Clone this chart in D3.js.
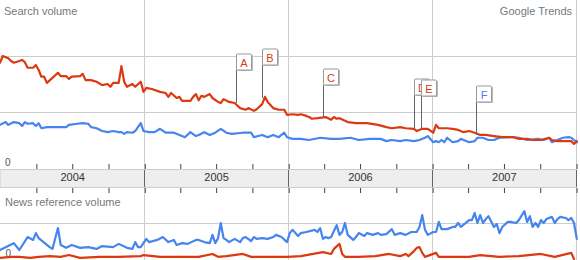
<!DOCTYPE html>
<html>
<head>
<meta charset="utf-8">
<script src="https://cdn.jsdelivr.net/npm/d3@7"></script>
<style>
  body { margin: 0; background: #fff; }
  svg { display: block; font-family: "Liberation Sans", Arial, sans-serif; }
</style>
</head>
<body>
<div id="chart"></div>
<script>
// [week since 2004-01-01, value]
const searchRed = [[0,1.88],[1,2.00],[3,1.96],[4,1.91],[5,1.88],[7,1.91],[8,1.93],[9,1.89],[10,1.79],[12,1.79],[13,1.84],[14,1.75],[15,1.63],[16,1.63],[17,1.52],[19,1.61],[21,1.70],[22,1.64],[24,1.64],[25,1.59],[26,1.63],[29,1.64],[30,1.68],[31,1.57],[33,1.57],[35,1.54],[37,1.48],[39,1.50],[40,1.45],[41,1.52],[43,1.52],[44,1.82],[45,1.54],[46,1.45],[48,1.50],[49,1.45],[51,1.54],[52,1.36],[53,1.43],[55,1.41],[58,1.36],[60,1.34],[61,1.27],[62,1.34],[64,1.25],[65,1.27],[66,1.20],[69,1.20],[70,1.27],[71,1.32],[72,1.21],[73,1.29],[74,1.27],[76,1.32],[77,1.25],[79,1.18],[80,1.16],[81,1.23],[83,1.18],[85,1.16],[87,1.07],[89,1.04],[90,1.07],[92,1.02],[93,1.05],[95,1.14],[96,1.27],[97,1.18],[99,1.07],[101,1.04],[103,1.04],[104,0.95],[106,0.96],[108,0.95],[109,0.96],[111,0.93],[112,0.91],[113,0.88],[115,0.89],[118,0.91],[120,0.86],[121,0.91],[122,0.88],[123,0.89],[126,0.82],[129,0.80],[133,0.80],[137,0.77],[140,0.73],[142,0.71],[145,0.73],[147,0.71],[150,0.70],[151,0.66],[153,0.70],[155,0.70],[157,0.63],[158,0.77],[159,0.71],[162,0.71],[164,0.70],[166,0.68],[168,0.64],[170,0.66],[172,0.63],[174,0.59],[176,0.59],[179,0.57],[182,0.55],[184,0.55],[186,0.55],[188,0.52],[191,0.52],[193,0.50],[196,0.50],[199,0.54],[200,0.50],[202,0.48],[204,0.48],[207,0.48],[208,0.43],[209,0.48]];
const searchBlue = [[0,0.77],[2,0.82],[3,0.77],[5,0.82],[7,0.80],[8,0.75],[9,0.82],[10,0.79],[12,0.80],[13,0.75],[14,0.80],[15,0.71],[17,0.73],[19,0.73],[22,0.73],[24,0.73],[25,0.77],[28,0.79],[30,0.80],[32,0.79],[33,0.73],[35,0.71],[37,0.66],[39,0.64],[41,0.66],[43,0.64],[44,0.64],[45,0.61],[46,0.64],[48,0.63],[49,0.66],[51,0.80],[52,0.66],[54,0.64],[56,0.64],[58,0.70],[60,0.63],[63,0.63],[65,0.59],[67,0.55],[69,0.64],[71,0.57],[72,0.59],[74,0.64],[76,0.59],[78,0.63],[80,0.70],[82,0.63],[84,0.61],[88,0.63],[91,0.63],[92,0.55],[95,0.59],[97,0.55],[99,0.59],[101,0.55],[103,0.63],[104,0.55],[106,0.52],[109,0.52],[112,0.50],[116,0.54],[120,0.52],[123,0.52],[127,0.54],[130,0.50],[134,0.52],[138,0.52],[140,0.48],[142,0.50],[145,0.48],[147,0.50],[150,0.48],[152,0.50],[154,0.54],[155,0.57],[157,0.46],[158,0.48],[159,0.46],[160,0.50],[161,0.46],[162,0.54],[164,0.46],[166,0.48],[167,0.52],[168,0.50],[170,0.46],[172,0.48],[173,0.54],[175,0.54],[177,0.50],[179,0.50],[181,0.54],[184,0.55],[186,0.55],[188,0.54],[191,0.50],[195,0.52],[197,0.50],[199,0.54],[200,0.46],[202,0.50],[204,0.54],[206,0.55],[207,0.54],[208,0.50],[209,0.46]];
const newsBlue = [[0,0.25],[5,0.44],[7,0.25],[10,0.61],[12,0.53],[13,0.72],[14,0.58],[18,0.33],[19,0.28],[21,0.86],[22,0.39],[24,0.31],[26,0.39],[29,0.31],[32,0.33],[35,0.28],[37,0.36],[41,0.33],[43,0.42],[46,0.31],[48,0.28],[49,0.47],[50,0.33],[51,0.33],[53,0.56],[54,0.47],[57,0.53],[59,0.61],[61,0.47],[63,0.53],[64,0.39],[66,0.44],[68,0.42],[71,0.53],[72,0.53],[74,0.47],[76,0.44],[77,0.67],[78,0.44],[79,0.58],[80,1.00],[81,0.58],[82,0.53],[83,0.47],[85,0.56],[87,0.47],[88,0.58],[89,0.61],[91,0.50],[92,0.61],[93,0.56],[95,0.58],[97,0.56],[99,0.61],[100,0.67],[102,0.61],[104,0.47],[105,0.72],[106,0.81],[108,0.64],[109,0.72],[111,0.75],[114,0.81],[115,0.75],[116,0.86],[117,0.56],[118,0.61],[119,0.58],[120,0.61],[122,0.94],[123,0.67],[124,0.75],[125,1.00],[126,0.67],[128,0.53],[129,0.61],[130,0.72],[132,0.64],[133,0.72],[135,0.67],[137,0.72],[138,0.67],[140,0.69],[142,0.83],[143,0.67],[145,0.72],[147,0.67],[149,0.75],[151,0.75],[152,0.89],[153,1.22],[154,0.81],[155,0.67],[157,0.75],[158,0.75],[159,1.03],[160,0.83],[162,0.83],[164,0.89],[165,0.89],[166,1.00],[167,0.89],[170,1.08],[171,1.08],[172,1.28],[173,1.00],[174,1.22],[175,1.00],[176,1.11],[177,1.19],[179,0.89],[180,0.97],[181,0.72],[182,0.89],[184,1.03],[185,1.03],[187,1.00],[188,1.08],[190,1.33],[191,1.03],[192,1.19],[193,0.89],[194,1.00],[195,0.89],[196,1.08],[197,1.00],[198,1.11],[200,1.17],[201,1.00],[202,1.11],[203,1.17],[205,1.14],[206,1.08],[207,1.14],[208,1.00],[209,0.56]];
const newsRed = [[0,0.03],[4,0.06],[7,0.06],[11,0.03],[14,0.06],[18,0.08],[22,0.06],[25,0.11],[29,0.03],[36,0.06],[43,0.06],[51,0.08],[52,0.11],[58,0.06],[65,0.06],[72,0.06],[77,0.14],[79,0.06],[82,0.08],[88,0.14],[91,0.06],[94,0.06],[104,0.06],[109,0.08],[117,0.19],[120,0.14],[121,0.28],[123,0.42],[124,0.14],[125,0.06],[130,0.06],[136,0.08],[141,0.14],[145,0.08],[147,0.14],[148,0.08],[150,0.22],[151,0.31],[152,0.33],[153,0.17],[154,0.06],[158,0.17],[159,0.06],[165,0.06],[170,0.06],[174,0.11],[181,0.06],[188,0.08],[196,0.14],[201,0.06],[207,0.17],[208,0.00]];

const years = ['2004', '2005', '2006', '2007'];
const flagLetters = ['A', 'B', 'C', 'D', 'E', 'F'];
const flagWeeks = [85.5, 95, 117, 150, 152.5, 172.5];
const flagValues = [1.16, 1.25, 0.89, 0.71, 0.70, 0.59];
const flagColors = ['red', 'red', 'red', 'red', 'red', 'blue'];

const w = 580;
const h = 260;
const red = '#dc3912';
const blue = '#4684ee';
const plotRight = 576;

const weekDate = k => new Date(2004, 0, 1 + 7 * k);

const svg = d3.select('#chart')
  .append('svg')
  .attr('width', w)
  .attr('height', h)

const xScale = d3.scaleTime()
  .domain([new Date(2004, 0, 1), new Date(2008, 0, 1)])
  .range([0, plotRight])

const ySearch = d3.scaleLinear().domain([0, 3]).range([168, 0])
const yNews = d3.scaleLinear().domain([0, 2]).range([259, 187])

const yearStarts = d3.timeYear.range(new Date(2005, 0, 1), new Date(2008, 0, 2))

// grid, search panel
svg.append('g')
  .selectAll('line')
  .data([1, 2])
  .enter()
  .append('line')
  .attr('x1', 0).attr('x2', plotRight)
  .attr('y1', d => ySearch(d) + 0.5).attr('y2', d => ySearch(d) + 0.5)
  .attr('stroke', '#ccc')

svg.append('g')
  .selectAll('line')
  .data(yearStarts)
  .enter()
  .append('line')
  .attr('x1', d => Math.round(xScale(d)) + 0.5).attr('x2', d => Math.round(xScale(d)) + 0.5)
  .attr('y1', 0).attr('y2', 169)
  .attr('stroke', '#ccc')

// grid, news panel
svg.append('line')
  .attr('x1', 0).attr('x2', plotRight)
  .attr('y1', yNews(1) + 0.5).attr('y2', yNews(1) + 0.5)
  .attr('stroke', '#ccc')

svg.append('g')
  .selectAll('line')
  .data(yearStarts)
  .enter()
  .append('line')
  .attr('x1', d => Math.round(xScale(d)) + 0.5).attr('x2', d => Math.round(xScale(d)) + 0.5)
  .attr('y1', 187).attr('y2', h)
  .attr('stroke', '#ccc')

// year band
svg.append('rect')
  .attr('x', 0).attr('y', 169.5)
  .attr('width', plotRight + 0.5).attr('height', 18)
  .attr('fill', '#eee')
  .attr('stroke', '#ccc')

svg.append('g')
  .selectAll('line')
  .data(yearStarts)
  .enter()
  .append('line')
  .attr('x1', d => Math.round(xScale(d)) + 0.5).attr('x2', d => Math.round(xScale(d)) + 0.5)
  .attr('y1', 170).attr('y2', 187)
  .attr('stroke', '#666')

const quarterTicks = d3.timeMonth.range(new Date(2004, 3, 1), new Date(2008, 0, 2), 3)

const topAxis = d3.axisTop(xScale).tickValues(quarterTicks).tickSize(5).tickFormat('')
const bottomAxis = d3.axisBottom(xScale).tickValues(quarterTicks).tickSize(5).tickFormat('')

svg.append('g')
  .attr('transform', 'translate(0.5,169)')
  .call(topAxis)
  .call(g => g.select('.domain').remove())
  .attr('color', '#444')

svg.append('g')
  .attr('transform', 'translate(0.5,188)')
  .call(bottomAxis)
  .call(g => g.select('.domain').remove())
  .attr('color', '#444')

const yearAxis = d3.axisBottom(xScale)
  .tickValues(years.map(y => new Date(+y, 6, 2)))
  .tickSize(0)
  .tickPadding(0)
  .tickFormat((d, i) => years[i])

svg.append('g')
  .attr('transform', 'translate(0,173)')
  .call(yearAxis)
  .call(g => g.select('.domain').remove())
  .attr('font-size', '11')
  .attr('font-family', '"Liberation Sans", Arial, sans-serif')
  .attr('color', '#333')

// labels
svg.append('text').attr('x', 4).attr('y', 14.5).text('Search volume')
  .attr('font-size', 11).attr('fill', '#777')
svg.append('text').attr('x', 572).attr('y', 14.5).text('Google Trends')
  .attr('font-size', 11).attr('fill', '#777').attr('text-anchor', 'end')
svg.append('text').attr('x', 5).attr('y', 166).text('0')
  .attr('font-size', 10).attr('fill', '#555')
svg.append('text').attr('x', 5).attr('y', 205.5).text('News reference volume')
  .attr('font-size', 11).attr('fill', '#777')
svg.append('text').attr('x', 5.5).attr('y', 257).text('0')
  .attr('font-size', 10).attr('fill', '#555')

// lines
const searchLine = d3.line().x(d => xScale(weekDate(d[0]))).y(d => ySearch(d[1]))
const newsLine = d3.line().x(d => xScale(weekDate(d[0]))).y(d => yNews(d[1]))

const drawLine = (data, gen, color) => svg.append('path')
  .datum(data)
  .attr('d', gen)
  .attr('fill', 'none')
  .attr('stroke', color)
  .attr('stroke-width', 2.2)
  .attr('stroke-linejoin', 'round')
  .attr('stroke-linecap', 'round')

drawLine(searchBlue, searchLine, blue)
drawLine(searchRed, searchLine, red)
drawLine(newsBlue, newsLine, blue)
drawLine(newsRed, newsLine, red)

// flags
const flags = flagLetters.map((l, i) => ({
  letter: l, week: flagWeeks[i], value: flagValues[i], color: flagColors[i] === 'red' ? red : blue
}))

const flag = svg.append('g')
  .selectAll('g')
  .data(flags)
  .enter()
  .append('g')
  .attr('transform', d => 'translate(' + (Math.round(xScale(weekDate(d.week))) + 0.5) + ',' + Math.round(ySearch(d.value)) + ')')

flag.append('line')
  .attr('x1', 0).attr('x2', 0)
  .attr('y1', 0).attr('y2', -33)
  .attr('stroke', '#666')

flag.append('rect')
  .attr('x', 1.5).attr('y', -48)
  .attr('width', 15).attr('height', 16)
  .attr('fill', '#bbb')
  .attr('rx', 1)

flag.append('rect')
  .attr('x', 0).attr('y', -49)
  .attr('width', 15).attr('height', 16)
  .attr('fill', '#fff')
  .attr('stroke', '#999')
  .attr('rx', 1)

flag.append('text')
  .attr('x', 7.5).attr('y', -36.5)
  .attr('text-anchor', 'middle')
  .attr('font-size', 11)
  .attr('fill', d => d.color)
  .text(d => d.letter)
</script>
</body>
</html>
